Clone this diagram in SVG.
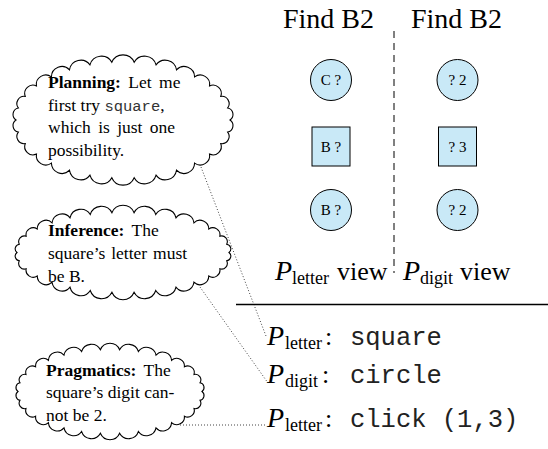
<svg xmlns="http://www.w3.org/2000/svg" width="548" height="449" viewBox="0 0 548 449">
<style>
.cloud{fill:#fff;stroke:#000;stroke-width:1.1}
.ct{font-family:"Liberation Serif","Times New Roman",serif;font-size:17.5px;fill:#000}
.b{font-weight:bold}
.cm{font-family:"Liberation Mono","Courier New",monospace;font-size:15.5px;fill:#333}
.node{fill:#c9e9f7;stroke:#000;stroke-width:1}
.nt{font-family:"Liberation Serif","Times New Roman",serif;font-size:15px;text-anchor:middle}
.title{font-family:"Liberation Serif","Times New Roman",serif;font-size:28px}
.big{font-family:"Liberation Serif","Times New Roman",serif;font-size:26px}
.it{font-style:italic;font-size:28px}
.sub{font-size:18px}
.mono{font-family:"Liberation Mono","Courier New",monospace;font-size:25.5px;fill:#222}
.dot{stroke:#444;stroke-width:1;stroke-dasharray:1 2;fill:none}
</style>
<g id="connectors">
<line class="dot" x1="201" y1="167" x2="266" y2="336"/>
<line class="dot" x1="200" y1="287" x2="268" y2="383"/>
<line class="dot" x1="180" y1="425" x2="266" y2="425"/>
<line x1="394" y1="31" x2="394" y2="273" stroke="#000" stroke-width="1" stroke-dasharray="7 5"/>
<line x1="236" y1="304.5" x2="548" y2="304.5" stroke="#000" stroke-width="1.3"/>
</g>
<g id="planning">
<path class="cloud" d="M230,120 A6.65,6.65 0 0 1 227.66,132.06 A7.27,7.27 0 0 1 220.74,143.59 A8.3,8.3 0 0 1 209.56,154.09 A9.45,9.45 0 0 1 194.59,163.1 A10.52,10.52 0 0 1 176.5,170.23 A11.38,11.38 0 0 1 156.06,175.16 A11.92,11.92 0 0 1 134.18,177.68 A12.1,12.1 0 0 1 111.82,177.68 A11.92,11.92 0 0 1 89.94,175.16 A11.38,11.38 0 0 1 69.5,170.23 A10.52,10.52 0 0 1 51.41,163.1 A9.45,9.45 0 0 1 36.44,154.09 A8.3,8.3 0 0 1 25.26,143.59 A7.27,7.27 0 0 1 18.34,132.06 A6.65,6.65 0 0 1 16,120 A6.65,6.65 0 0 1 18.34,107.94 A7.27,7.27 0 0 1 25.26,96.41 A8.3,8.3 0 0 1 36.44,85.91 A9.45,9.45 0 0 1 51.41,76.9 A10.52,10.52 0 0 1 69.5,69.77 A11.38,11.38 0 0 1 89.94,64.84 A11.92,11.92 0 0 1 111.82,62.32 A12.1,12.1 0 0 1 134.18,62.32 A11.92,11.92 0 0 1 156.06,64.84 A11.38,11.38 0 0 1 176.5,69.77 A10.52,10.52 0 0 1 194.59,76.9 A9.45,9.45 0 0 1 209.56,85.91 A8.3,8.3 0 0 1 220.74,96.41 A7.27,7.27 0 0 1 227.66,107.94 A6.65,6.65 0 0 1 230,120 Z"/>
<text class="ct" x="48" y="88" word-spacing="3"><tspan class="b">Planning:</tspan> Let me</text>
<text class="ct" x="48" y="110.5">first try <tspan class="cm">square</tspan>,</text>
<text class="ct" x="48" y="133" word-spacing="3">which is just one</text>
<text class="ct" x="48" y="155.5">possibility.</text>
</g>
<g id="inference">
<path class="cloud" d="M229,252.5 A4.67,4.67 0 0 1 226.68,260.82 A5.68,5.68 0 0 1 219.83,268.77 A7.16,7.16 0 0 1 208.75,276.01 A8.7,8.7 0 0 1 193.92,282.22 A10.06,10.06 0 0 1 176,287.14 A11.11,11.11 0 0 1 155.75,290.54 A11.77,11.77 0 0 1 134.08,292.28 A11.99,11.99 0 0 1 111.92,292.28 A11.77,11.77 0 0 1 90.25,290.54 A11.11,11.11 0 0 1 70,287.14 A10.06,10.06 0 0 1 52.08,282.22 A8.7,8.7 0 0 1 37.25,276.01 A7.16,7.16 0 0 1 26.17,268.77 A5.68,5.68 0 0 1 19.32,260.82 A4.67,4.67 0 0 1 17,252.5 A4.67,4.67 0 0 1 19.32,244.18 A5.68,5.68 0 0 1 26.17,236.23 A7.16,7.16 0 0 1 37.25,228.99 A8.7,8.7 0 0 1 52.08,222.78 A10.06,10.06 0 0 1 70,217.86 A11.11,11.11 0 0 1 90.25,214.46 A11.77,11.77 0 0 1 111.92,212.72 A11.99,11.99 0 0 1 134.08,212.72 A11.77,11.77 0 0 1 155.75,214.46 A11.11,11.11 0 0 1 176,217.86 A10.06,10.06 0 0 1 193.92,222.78 A8.7,8.7 0 0 1 208.75,228.99 A7.16,7.16 0 0 1 219.83,236.23 A5.68,5.68 0 0 1 226.68,244.18 A4.67,4.67 0 0 1 229,252.5 Z"/>
<text class="ct" x="48" y="236" word-spacing="3"><tspan class="b">Inference:</tspan> The</text>
<text class="ct" x="48" y="259" word-spacing="1.5">square’s letter must</text>
<text class="ct" x="48" y="282">be B.</text>
</g>
<g id="pragmatics">
<path class="cloud" d="M202,391.5 A4.85,4.85 0 0 1 199.99,400.23 A5.55,5.55 0 0 1 194.04,408.58 A6.63,6.63 0 0 1 184.43,416.19 A7.81,7.81 0 0 1 171.56,422.71 A8.87,8.87 0 0 1 156,427.87 A9.7,9.7 0 0 1 138.43,431.45 A10.23,10.23 0 0 1 119.61,433.27 A10.4,10.4 0 0 1 100.39,433.27 A10.23,10.23 0 0 1 81.57,431.45 A9.7,9.7 0 0 1 64,427.87 A8.87,8.87 0 0 1 48.44,422.71 A7.81,7.81 0 0 1 35.57,416.19 A6.63,6.63 0 0 1 25.96,408.58 A5.55,5.55 0 0 1 20.01,400.23 A4.85,4.85 0 0 1 18,391.5 A4.85,4.85 0 0 1 20.01,382.77 A5.55,5.55 0 0 1 25.96,374.42 A6.63,6.63 0 0 1 35.57,366.81 A7.81,7.81 0 0 1 48.44,360.29 A8.87,8.87 0 0 1 64,355.13 A9.7,9.7 0 0 1 81.57,351.55 A10.23,10.23 0 0 1 100.39,349.73 A10.4,10.4 0 0 1 119.61,349.73 A10.23,10.23 0 0 1 138.43,351.55 A9.7,9.7 0 0 1 156,355.13 A8.87,8.87 0 0 1 171.56,360.29 A7.81,7.81 0 0 1 184.43,366.81 A6.63,6.63 0 0 1 194.04,374.42 A5.55,5.55 0 0 1 199.99,382.77 A4.85,4.85 0 0 1 202,391.5 Z"/>
<text class="ct" x="46" y="375.5" word-spacing="3"><tspan class="b">Pragmatics:</tspan> The</text>
<text class="ct" x="46" y="398">square’s digit can-</text>
<text class="ct" x="46" y="420.5">not be 2.</text>
</g>
<g id="titles">
<text class="title" x="283" y="28">Find B2</text>
<text class="title" x="411" y="28">Find B2</text>
</g>
<g id="letter-c">
<circle class="node" cx="331" cy="80" r="20.5"/>
<text class="nt" x="331" y="85">C ?</text>
</g>
<g id="letter-square">
<rect class="node" x="312" y="127" width="38" height="39"/>
<text class="nt" x="331" y="151.5">B ?</text>
</g>
<g id="letter-b">
<circle class="node" cx="331" cy="210" r="20.5"/>
<text class="nt" x="331" y="215">B ?</text>
</g>
<g id="digit-2a">
<circle class="node" cx="457.5" cy="80" r="20.5"/>
<text class="nt" x="457.5" y="85">? 2</text>
</g>
<g id="digit-square">
<rect class="node" x="438.5" y="127" width="38" height="39"/>
<text class="nt" x="457.5" y="151.5">? 3</text>
</g>
<g id="digit-2b">
<circle class="node" cx="457.5" cy="210" r="20.5"/>
<text class="nt" x="457.5" y="215">? 2</text>
</g>
<g id="views">
<text class="big" y="280"><tspan class="it" x="275">P</tspan><tspan class="sub" x="292" dy="4">letter</tspan><tspan x="337" dy="-4">view</tspan></text>
<text class="big" y="280"><tspan class="it" x="403">P</tspan><tspan class="sub" x="420" dy="4">digit</tspan><tspan x="460" dy="-4">view</tspan></text>
</g>
<g id="actions">
<text class="big" y="345"><tspan class="it" x="267">P</tspan><tspan class="sub" x="285" dy="4">letter</tspan><tspan x="325" dy="-4">:</tspan></text>
<text class="mono" x="350" y="345">square</text>
<text class="big" y="383"><tspan class="it" x="267">P</tspan><tspan class="sub" x="285" dy="4">digit</tspan><tspan x="322" dy="-4">:</tspan></text>
<text class="mono" x="350" y="383">circle</text>
<text class="big" y="427"><tspan class="it" x="267">P</tspan><tspan class="sub" x="285" dy="4">letter</tspan><tspan x="325" dy="-4">:</tspan></text>
<text class="mono" x="350" y="427">click (1,3)</text>
</g>
</svg>
